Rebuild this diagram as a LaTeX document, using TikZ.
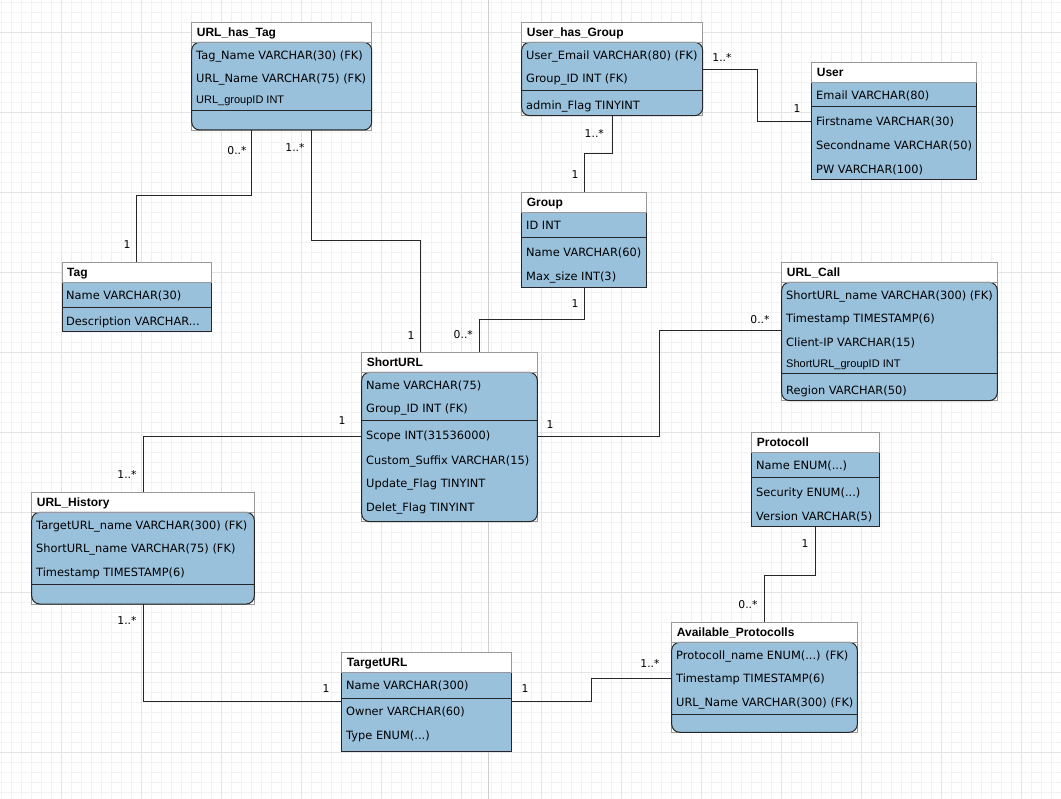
\documentclass[tikz,border=0pt]{standalone}
\usepackage{fontspec}
\setmainfont{DejaVu Sans}
\newfontfamily\hdrfont{Liberation Sans}
\definecolor{erblue}{RGB}{153,193,220}
\definecolor{gridminor}{RGB}{242,242,242}
\definecolor{gridmajor}{RGB}{228,228,228}
\definecolor{pageline}{RGB}{205,205,205}
\tikzset{
  tblnode/.style={draw=none,inner sep=0pt,outer sep=0pt},
  hbox/.style={draw=black!40,line width=0.8pt},
  bbox/.style={draw=black!85,fill=erblue,line width=1pt},
  sepline/.style={draw=black!85,line width=1pt},
  hdr/.style={anchor=base west,yshift=-4.3pt,inner sep=0pt,font=\hdrfont\bfseries\fontsize{12}{14}\selectfont},
  row/.style={anchor=base west,yshift=-4.2pt,inner sep=0pt,font=\fontsize{11.4}{13}\selectfont},
  srow/.style={anchor=base west,yshift=-4pt,inner sep=0pt,font=\hdrfont\fontsize{11}{13}\selectfont},
  lbl/.style={anchor=base,yshift=-3.9pt,inner sep=0pt,font=\fontsize{10.8}{12}\selectfont},
  conn/.style={draw=black!85,line width=1pt}
}
% name, left, top, right, header bottom, bottom, title
\newcommand\ertround[7]{%
  \node[tblnode,minimum width={#4-#2},minimum height={#6-#3},anchor=north west] (#1) at (#2,#3) {};
  \fill[white] (#2,#3) rectangle (#4,#5);
  \draw[hbox] (#2,#3) rectangle (#4,#6);
  \draw[bbox,rounded corners=8pt] (#2,#5) rectangle (#4,#6);
  \draw[hbox] (#2,#3) rectangle (#4,#5);
  \node[hdr] (#1-h) at (#2+5,{(#3+#5)/2}) {#7};
}
\newcommand\ertsharp[7]{%
  \node[tblnode,minimum width={#4-#2},minimum height={#6-#3},anchor=north west] (#1) at (#2,#3) {};
  \fill[white] (#2,#3) rectangle (#4,#5);
  \draw[bbox] (#2,#5) rectangle (#4,#6);
  \draw[hbox] (#2,#3) rectangle (#4,#5);
  \node[hdr] (#1-h) at (#2+5,{(#3+#5)/2}) {#7};
}
\begin{document}
\begin{tikzpicture}[x=1pt,y=-1pt]
\useasboundingbox (0,0) rectangle (1061,799);
\fill[white] (0,0) rectangle (1061,799);
% grid
\foreach \i in {0,...,105} {\draw[gridminor,line width=0.8pt] ({1.7+10*\i},0) -- ({1.7+10*\i},799);}
\foreach \i in {0,...,79} {\draw[gridminor,line width=0.8pt] (0,{2.3+10*\i}) -- (1061,{2.3+10*\i});}
\foreach \i in {0,...,12} {\draw[gridmajor,line width=0.8pt] ({61.7+80*\i},0) -- ({61.7+80*\i},799);}
\foreach \i in {0,...,9} {\draw[gridmajor,line width=0.8pt] (0,{32.3+80*\i}) -- (1061,{32.3+80*\i});}
\draw[pageline,line width=1pt] (488,0) -- (488,799);

% tables
\ertround{uht}{191.7}{22.3}{371.7}{42.3}{130}{URL\_has\_Tag}
\node[row] (uht-1) at (196,55) {Tag\_Name VARCHAR(30) (FK)};
\node[row] (uht-2) at (196,78.3) {URL\_Name VARCHAR(75) (FK)};
\node[srow] (uht-3) at (196,100) {URL\_groupID INT};
\draw[sepline] (191.7,110.7) -- (371.7,110.7);

\ertround{uhg}{521.7}{22.3}{702.7}{42.3}{115.7}{User\_has\_Group}
\node[row] (uhg-1) at (526,55) {User\_Email VARCHAR(80) (FK)};
\node[row] (uhg-2) at (526,78.3) {Group\_ID INT (FK)};
\draw[sepline] (521.7,91) -- (702.7,91);
\node[row] (uhg-3) at (526,105) {admin\_Flag TINYINT};

\ertsharp{user}{811.7}{62.3}{976.7}{82.3}{180}{User}
\node[row] (user-1) at (816,95) {Email VARCHAR(80)};
\draw[sepline] (811.7,106.7) -- (976.7,106.7);
\node[row] (user-2) at (816,121.5) {Firstname VARCHAR(30)};
\node[row] (user-3) at (816,145.5) {Secondname VARCHAR(50)};
\node[row] (user-4) at (816,169.5) {PW VARCHAR(100)};

\ertsharp{tag}{62}{262.3}{211}{282.3}{332}{Tag}
\node[row] (tag-1) at (66,295) {Name VARCHAR(30)};
\draw[sepline] (62,308) -- (211,308);
\node[row] (tag-2) at (66,321.5) {Description VARCHAR...};

\ertsharp{group}{521.7}{192.3}{646}{212.3}{287.5}{Group}
\node[row] (group-1) at (526,225) {ID INT};
\draw[sepline] (521.7,238) -- (646,238);
\node[row] (group-2) at (526,252) {Name VARCHAR(60)};
\node[row] (group-3) at (526,276) {Max\_size INT(3)};

\ertround{short}{361.7}{352.3}{537.3}{372.3}{521.7}{ShortURL}
\node[row] (short-1) at (366,385) {Name VARCHAR(75)};
\node[row] (short-2) at (366,408.3) {Group\_ID INT (FK)};
\draw[sepline] (361.7,420.7) -- (537.3,420.7);
\node[row] (short-3) at (366,435.7) {Scope INT(31536000)};
\node[row] (short-4) at (366,460) {Custom\_Suffix VARCHAR(15)};
\node[row] (short-5) at (366,483.3) {Update\_Flag TINYINT};
\node[row] (short-6) at (366,507.7) {Delet\_Flag TINYINT};

\ertround{call}{781.7}{262.3}{997.3}{282.3}{400.7}{URL\_Call}
\node[row] (call-1) at (786,295) {ShortURL\_name VARCHAR(300) (FK)};
\node[row] (call-2) at (786,318.3) {Timestamp TIMESTAMP(6)};
\node[row] (call-3) at (786,342.7) {Client-IP VARCHAR(15)};
\node[srow] (call-4) at (786,363.3) {ShortURL\_groupID INT};
\draw[sepline] (781.7,374) -- (997.3,374);
\node[row] (call-5) at (786,390) {Region VARCHAR(50)};

\ertsharp{proto}{751.7}{432.3}{879.3}{452.3}{527}{Protocoll}
\node[row] (proto-1) at (756,465) {Name ENUM(...)};
\draw[sepline] (751.7,478) -- (879.3,478);
\node[row] (proto-2) at (756,492) {Security ENUM(...)};
\node[row] (proto-3) at (756,516) {Version VARCHAR(5)};

\ertround{hist}{31.7}{492.3}{254.3}{512.3}{604}{URL\_History}
\node[row] (hist-1) at (36,525) {TargetURL\_name VARCHAR(300) (FK)};
\node[row] (hist-2) at (36,548.3) {ShortURL\_name VARCHAR(75) (FK)};
\node[row] (hist-3) at (36,572.7) {Timestamp TIMESTAMP(6)};
\draw[sepline] (31.7,584) -- (254.3,584);

\ertsharp{target}{341.7}{652.3}{511.3}{672.3}{751.5}{TargetURL}
\node[row] (target-1) at (346,685) {Name VARCHAR(300)};
\draw[sepline] (341.7,698) -- (511.3,698);
\node[row] (target-2) at (346,711.5) {Owner VARCHAR(60)};
\node[row] (target-3) at (346,735.5) {Type ENUM(...)};

\ertround{ap}{671.7}{622.3}{857.3}{642.3}{732.3}{Available\_Protocolls}
\node[row] (ap-1) at (676,655) {Protocoll\_name ENUM(...) (FK)};
\node[row] (ap-2) at (676,678.3) {Timestamp TIMESTAMP(6)};
\node[row] (ap-3) at (676,702.7) {URL\_Name VARCHAR(300) (FK)};
\draw[sepline] (671.7,714) -- (857.3,714);

% bend points
\coordinate (k1) at (251.7,196);
\coordinate (k2) at (311.7,241);
\coordinate (k3) at (420,241);
\coordinate (k4) at (757,70);
\coordinate (k5) at (757,122);
\coordinate (k6) at (612.3,154);
\coordinate (k7) at (584.3,154);
\coordinate (k8) at (584.3,320);
\coordinate (k9) at (479.3,320);
\coordinate (k10) at (659,436.7);
\coordinate (k11) at (659,331);
\coordinate (k12) at (143.3,436.7);
\coordinate (k13) at (143.3,701.7);
\coordinate (k14) at (591,701.7);
\coordinate (k15) at (591,678.3);
\coordinate (k16) at (815.5,575);
\coordinate (k17) at (764.5,575);

% connectors
\draw[conn] (k1 |- uht.south) -- (k1) -- (k1 -| tag.north) -- (tag.north);
\draw[conn] (k2 |- uht.south) -- (k2) -- (k3) -- (k3 |- short.north);
\draw[conn] (uhg.east |- k4) -- (k4) -- (k5) -- (k5 -| user.west);
\draw[conn] (k6 |- uhg.south) -- (k6) -- (k7) -- (k7 |- group.north);
\draw[conn] (k8 |- group.south) -- (k8) -- (k9) -- (k9 |- short.north);
\draw[conn] (short.east |- k10) -- (k10) -- (k11) -- (k11 -| call.west);
\draw[conn] (short.west |- k12) -- (k12) -- (k12 |- hist.north);
\draw[conn] (k13 |- hist.south) -- (k13) -- (k13 -| target.west);
\draw[conn] (target.east |- k14) -- (k14) -- (k15) -- (k15 -| ap.west);
\draw[conn] (proto.south) -- (proto.south |- k16) -- (k17) -- (ap.north);

% labels
\node[lbl] (l1) at (237,150.7) {0..*};
\node[lbl] (l2) at (127,245) {1};
\node[lbl] (l3) at (295,148) {1..*};
\node[lbl] (l4) at (411,336) {1};
\node[lbl] (l5) at (722,58) {1..*};
\node[lbl] (l6) at (797,109) {1};
\node[lbl] (l7) at (594.3,133.3) {1..*};
\node[lbl] (l8) at (575,175) {1};
\node[lbl] (l9) at (575,304) {1};
\node[lbl] (l10) at (463.3,334.3) {0..*};
\node[lbl] (l11) at (550,425) {1};
\node[lbl] (l12) at (760,320) {0..*};
\node[lbl] (l13) at (342,421) {1};
\node[lbl] (l14) at (127,475) {1..*};
\node[lbl] (l15) at (127,621) {1..*};
\node[lbl] (l16) at (326,689) {1};
\node[lbl] (l17) at (525,689) {1};
\node[lbl] (l18) at (650,664) {1..*};
\node[lbl] (l19) at (805,544) {1};
\node[lbl] (l20) at (748,605) {0..*};
\end{tikzpicture}
\end{document}
